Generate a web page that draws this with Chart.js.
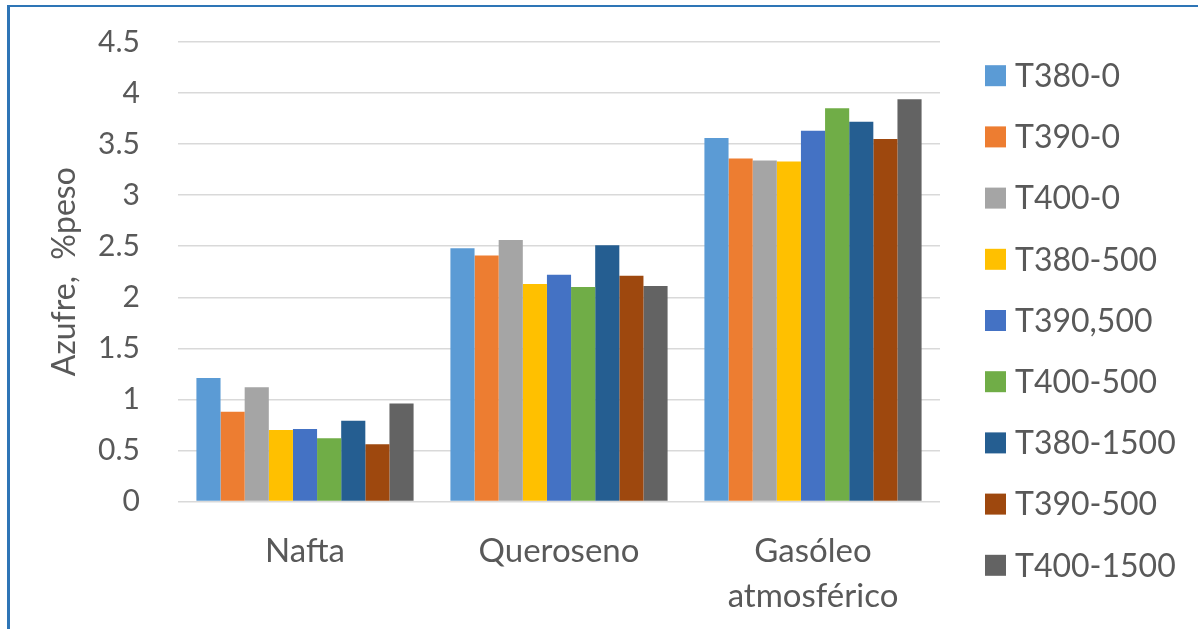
<!DOCTYPE html>
<html>
<head>
<meta charset="utf-8">
<script src="https://cdn.jsdelivr.net/npm/chart.js@4/dist/chart.umd.min.js"></script>
<style>
  html, body { margin: 0; padding: 0; background: #ffffff; }
  #wrap { position: relative; width: 1198px; height: 629px; overflow: hidden; }
  #frame {
    position: absolute; left: 7px; top: 5px; width: 1300px; height: 700px;
    border-left: 3px solid #2E75B6; border-top: 2px solid #2E75B6;
    pointer-events: none;
  }
  canvas { position: absolute; left: 0; top: 0; }
</style>
</head>
<body>
<div id="wrap">
  <canvas id="c" width="1198" height="629"></canvas>
  <div id="frame"></div>
</div>
<script>
// Sulfur content (% weight) per distillate fraction and run condition
const categories = ['Nafta', 'Queroseno', ['Gasóleo', 'atmosférico']];
const seriesNames = ['T380-0', 'T390-0', 'T400-0', 'T380-500', 'T390,500', 'T400-500', 'T380-1500', 'T390-500', 'T400-1500'];
const seriesColors = ['#5B9BD5', '#ED7D31', '#A5A5A5', '#FFC000', '#4472C4', '#70AD47', '#255E91', '#9E480E', '#636363'];

const T380_0    = [1.21, 2.48, 3.56];
const T390_0    = [0.88, 2.41, 3.36];
const T400_0    = [1.12, 2.56, 3.34];
const T380_500  = [0.70, 2.13, 3.33];
const T390_500c = [0.71, 2.22, 3.63];
const T400_500  = [0.62, 2.10, 3.85];
const T380_1500 = [0.79, 2.51, 3.72];
const T390_500  = [0.56, 2.21, 3.55];
const T400_1500 = [0.96, 2.11, 3.94];

const seriesValues = [T380_0, T390_0, T400_0, T380_500, T390_500c, T400_500, T380_1500, T390_500, T400_1500];
const yTicks = [0, 0.5, 1, 1.5, 2, 2.5, 3, 3.5, 4, 4.5];

const textColor = '#595959';
const fontFamily = 'Lato, "Open Sans", sans-serif';

// Legend stacked on the right, one square swatch per series
const sideLegend = {
  id: 'sideLegend',
  afterDraw(chart) {
    const ctx = chart.ctx;
    const x0 = chart.chartArea.right + 45;
    const y0 = 75.7;
    const step = 61.2;
    const box = 21;
    ctx.save();
    ctx.font = '32px ' + fontFamily;
    ctx.textBaseline = 'middle';
    ctx.textAlign = 'left';
    chart.data.datasets.forEach((ds, i) => {
      const cy = y0 + i * step;
      ctx.fillStyle = ds.backgroundColor;
      ctx.fillRect(x0, cy - box / 2, box, box);
      ctx.fillStyle = textColor;
      ctx.fillText(ds.label, x0 + box + 9, cy + 1);
    });
    ctx.restore();
  }
};

const datasets = seriesNames.map((name, i) => ({
  label: name,
  data: seriesValues[i],
  backgroundColor: seriesColors[i],
  borderWidth: 0,
  barPercentage: 1.0,
  categoryPercentage: 0.855
}));

new Chart(document.getElementById('c'), {
  type: 'bar',
  data: { labels: categories, datasets },
  options: {
    responsive: false,
    animation: false,
    devicePixelRatio: 1,
    layout: { padding: { left: 45, right: 258, top: 42, bottom: 0 } },
    plugins: {
      legend: { display: false },
      tooltip: { enabled: false }
    },
    scales: {
      x: {
        grid: { display: false, drawTicks: false },
        border: { display: false },
        ticks: {
          color: textColor,
          font: { family: fontFamily, size: 33, lineHeight: 1.37 },
          padding: 27,
          maxRotation: 0,
          autoSkip: false
        },
        afterFit(scale) { scale.height = 127.5; }
      },
      y: {
        min: 0,
        max: 4.5,
        afterBuildTicks(scale) { scale.ticks = yTicks.map(v => ({ value: v })); },
        grid: { color: '#D9D9D9', lineWidth: 1.5, drawTicks: false },
        border: { display: false },
        ticks: {
          color: textColor,
          font: { family: fontFamily, size: 30 },
          padding: 38,
          callback: v => String(v)
        },
        title: {
          display: true,
          text: 'Azufre,  %peso',
          color: textColor,
          font: { family: fontFamily, size: 32 },
          padding: { top: 0, bottom: 0 }
        },
        afterFit(scale) {
          scale.width = 133;
          scale.paddingTop = 0;
          scale.paddingBottom = 0;
        }
      }
    }
  },
  plugins: [sideLegend]
});
</script>
</body>
</html>
